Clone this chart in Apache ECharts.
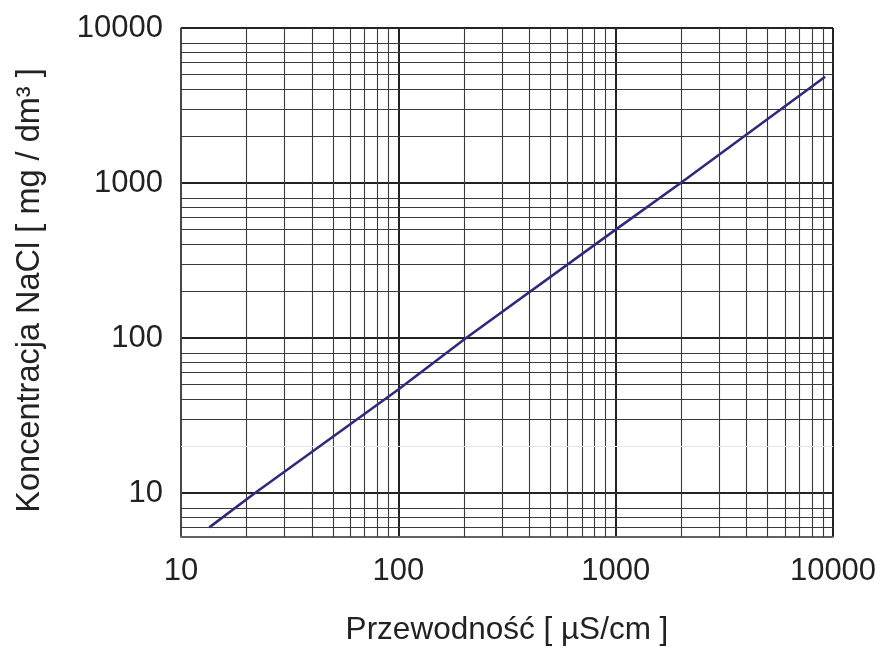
<!DOCTYPE html>
<html>
<head>
<meta charset="utf-8">
<script src="https://cdn.jsdelivr.net/npm/echarts@6/dist/echarts.min.js"></script>
<style>
html,body{margin:0;padding:0;background:#fff;}
#chart{width:882px;height:659px;}
</style>
</head>
<body>
<div id="chart"></div>
<script>
// Data
const conductivity = [13.5, 21.9, 100, 205, 1000, 1990, 9200];   // µS/cm
const concentration = [6.0, 10, 46.5, 100, 500, 1000, 4850];     // mg/dm3

const xTickLabels = ['10', '100', '1000', '10000'];
const yTickLabels = ['10', '100', '1000', '10000'];

const xMin = 10, xMax = 10000;
const yMin = 5.2, yMax = 10000;

// minor grid line values
const xGridMinor = [20,30,40,50,60,70,80,90, 200,300,400,500,600,700,800,900, 2000,3000,4000,5000,6000,7000,8000,9000];
const yGridMinor = [6,7,8, 30,40,50,60,70,80, 200,300,400,500,600,700,800, 2000,3000,4000,5000,6000,7000,8000];
const yGridFaint = [20];

const chart = echarts.init(document.getElementById('chart'), null, {renderer: 'canvas'});

const labelFmt = (list) => (v) => {
  const r = String(Math.round(v));
  return list.indexOf(r) >= 0 ? r : '';
};

const font = 'Liberation Sans, Arial, sans-serif';

const option = {
  animation: false,
  backgroundColor: '#fff',
  grid: {left: 181, right: 49, top: 28, bottom: 122},
  xAxis: {
    type: 'log', logBase: 10, min: xMin, max: xMax,
    name: 'Przewodność [ µS/cm ]',
    nameLocation: 'middle', nameGap: 77,
    nameTextStyle: {fontFamily: font, fontSize: 31.5, color: '#222'},
    axisLine: {show: true, lineStyle: {color: '#777', width: 1.5}},
    axisTick: {show: false},
    axisLabel: {fontFamily: font, fontSize: 31, color: '#222', margin: 19, formatter: labelFmt(xTickLabels)},
    splitLine: {show: true, lineStyle: {color: '#222', width: 2}},
    minorTick: {show: false}, minorSplitLine: {show: false}
  },
  yAxis: {
    type: 'log', logBase: 10, min: yMin, max: yMax,
    name: 'Koncentracja NaCl [ mg / dm³ ]',
    nameLocation: 'middle', nameGap: 134, nameRotate: 90,
    nameTextStyle: {fontFamily: font, fontSize: 32.5, color: '#222', padding: [0, 16, 0, 0]},
    axisLine: {show: true, lineStyle: {color: '#555', width: 1.5}},
    axisTick: {show: false},
    axisLabel: {fontFamily: font, fontSize: 31, color: '#222', margin: 18, formatter: labelFmt(yTickLabels)},
    splitLine: {show: true, lineStyle: {color: '#222', width: 2}},
    minorTick: {show: false}, minorSplitLine: {show: false}
  },
  series: [
    {
      type: 'line', data: [], z: 1, silent: true,
      markLine: {
        silent: true, symbol: ['none', 'none'], label: {show: false}, animation: false,
        lineStyle: {color: '#3a3a3a', width: 1.1, type: 'solid'},
        data: xGridMinor.map(v => ({xAxis: v}))
          .concat(yGridMinor.map(v => ({yAxis: v})))
          .concat(yGridFaint.map(v => ({yAxis: v, lineStyle: {color: '#e6e6e6', width: 1}})))
      }
    },
    {
      type: 'line', z: 5,
      data: conductivity.map((c, i) => [c, concentration[i]]),
      showSymbol: false, symbol: 'none',
      lineStyle: {color: '#2d2c7c', width: 2.6},
      itemStyle: {color: '#2d2c7c'}
    }
  ]
};
chart.setOption(option);
</script>
</body>
</html>
